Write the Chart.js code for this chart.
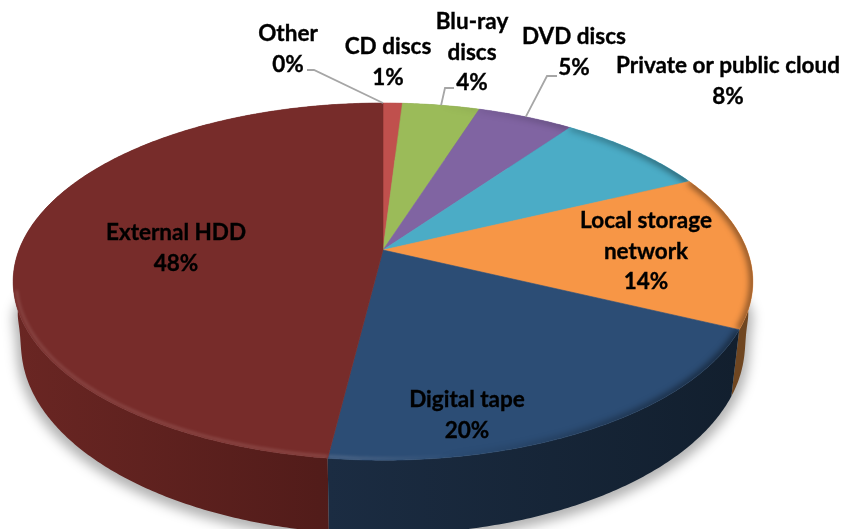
<!DOCTYPE html>
<html>
<head>
<meta charset="utf-8">
<style>
  html, body { margin: 0; padding: 0; background: #fff; }
  canvas { display: block; }
</style>
<script src="https://cdn.jsdelivr.net/npm/chart.js@4/dist/chart.umd.js"></script>
</head>
<body>
<canvas id="storage" width="844" height="529"></canvas>
<script>
// Share of archive storage by medium, clockwise from twelve o'clock.
const categories = [
  ['Other'], ['CD discs'], ['Blu-ray', 'discs'], ['DVD discs'],
  ['Private or public cloud'], ['Local storage', 'network'],
  ['Digital tape'], ['External HDD']
];
const shares = [0, 1, 4, 5, 8, 14, 20, 48];
const faceColors = ['#4f81bd', '#c0504d', '#9bbb59', '#8064a2', '#4bacc6', '#f79646', '#2c4d75', '#772c2a'];
const wallFrom = ['#3c6290', '#803634', '#6d8440', '#5a4673', '#347a8c', '#6f4621', '#1b2c42', '#6a2623'];
const wallTo = ['#3c6290', '#803634', '#6d8440', '#5a4673', '#347a8c', '#6f4621', '#121f2e', '#4d1a18'];

// Label placement: centre x and middle y of each text block's first line.
const labelAnchors = [[288, 34], [388, 47], [472, 22], [574, 37], [728, 66], [646, 221], [467, 400], [176, 233]];
// Elbow of each leader line, for the labels that sit away from their slice.
const leaderElbows = { 0: [[307, 70], [314, 70]], 2: [[454, 88], [445, 88]], 3: [[557, 76], [547, 76]] };

// Tilted-disc projection: the disc centre stays at the arc centre, the rim is foreshortened.
const TILT = 0.177;
const TOP_RIM = { rx: 364 / 250, ry: 173 / 250, dy: 0, flare: 0 };
const BASE_RIM = { rx: 356 / 250, ry: 183 / 250, dy: 62, flare: 0.03 };

function project(el, angle, rim, scale = 1) {
  const s = Math.sin(angle), c = Math.cos(angle);
  const f = el.outerRadius * scale / (1 - TILT * s);
  // The base edge swells a little where it meets the widest part of the top rim.
  const widen = 1 + rim.flare * Math.exp(-Math.pow((s + 0.05) / 0.13, 2));
  return [el.x + rim.rx * f * c * widen, el.y + rim.dy + rim.ry * f * s];
}

function rimPoints(el, rim, from, to, scale = 1) {
  const steps = Math.max(2, Math.ceil((to - from) / 0.01));
  const pts = [];
  for (let i = 0; i <= steps; i++) pts.push(project(el, from + (to - from) * i / steps, rim, scale));
  return pts;
}

function trace(ctx, pts) {
  pts.forEach((p, i) => (i ? ctx.lineTo(p[0], p[1]) : ctx.moveTo(p[0], p[1])));
}

const tiltedPie = {
  id: 'tiltedPie',
  beforeDatasetDraw(chart) {
    const ctx = chart.ctx;
    const arcs = chart.getDatasetMeta(0).data.map((a, i) => ({
      i, el: a.getProps(['x', 'y', 'startAngle', 'endAngle', 'outerRadius'], true)
    }));

    // Soft ground shadow under the base.
    const whole = arcs[0].el;
    ctx.save();
    ctx.filter = 'blur(6px)';
    ctx.fillStyle = 'rgba(0,0,0,0.3)';
    ctx.translate(0, 5);
    ctx.beginPath();
    trace(ctx, rimPoints(whole, BASE_RIM, 0, Math.PI * 2, 1.012));
    ctx.closePath();
    ctx.fill();
    ctx.restore();

    // Side walls, back slices first.
    const backToFront = arcs.slice().sort((p, q) =>
      Math.sin((p.el.startAngle + p.el.endAngle) / 2) - Math.sin((q.el.startAngle + q.el.endAngle) / 2));
    backToFront.forEach(({ i, el }) => {
      if (el.endAngle - el.startAngle < 1e-4) return;
      const upper = rimPoints(el, TOP_RIM, el.startAngle, el.endAngle);
      const lower = rimPoints(el, BASE_RIM, el.startAngle, el.endAngle).reverse();
      const xs = upper.concat(lower).map(p => p[0]);
      const g = ctx.createLinearGradient(Math.min(...xs), 0, Math.max(...xs), 0);
      g.addColorStop(0, wallFrom[i]);
      g.addColorStop(1, wallTo[i]);
      ctx.fillStyle = g;
      ctx.beginPath();
      trace(ctx, upper.concat(lower));
      ctx.closePath();
      ctx.fill();
    });

    // Top faces with a soft bevel along the rim.
    arcs.forEach(({ i, el }) => {
      if (el.endAngle - el.startAngle < 1e-4) return;
      const rim = rimPoints(el, TOP_RIM, el.startAngle, el.endAngle);
      ctx.save();
      ctx.beginPath();
      ctx.moveTo(el.x, el.y);
      rim.forEach(p => ctx.lineTo(p[0], p[1]));
      ctx.closePath();
      ctx.fillStyle = faceColors[i];
      ctx.strokeStyle = faceColors[i];
      ctx.lineWidth = 0.6;
      ctx.fill();
      ctx.stroke();
      ctx.clip();
      const inner = rimPoints(el, TOP_RIM, el.startAngle, el.endAngle, 0.992);
      const g = ctx.createLinearGradient(13, 0, 753, 0);
      g.addColorStop(0, 'rgba(255,235,230,0.13)');
      g.addColorStop(0.45, 'rgba(255,235,230,0.15)');
      g.addColorStop(0.6, 'rgba(255,235,230,0)');
      g.addColorStop(1, 'rgba(0,0,0,0)');
      ctx.filter = 'blur(1.5px)';
      ctx.strokeStyle = g;
      ctx.lineWidth = 3;
      ctx.beginPath();
      trace(ctx, inner.filter(p => p[1] > 290));
      ctx.stroke();
      ctx.filter = 'blur(3px)';
      const d = ctx.createLinearGradient(440, 0, 700, 0);
      d.addColorStop(0, 'rgba(0,0,0,0)');
      d.addColorStop(1, 'rgba(0,0,0,0.5)');
      ctx.strokeStyle = d;
      ctx.lineWidth = 6;
      ctx.beginPath();
      trace(ctx, rim);
      ctx.stroke();
      ctx.restore();
    });

    // Leader lines from rim to label.
    ctx.save();
    ctx.strokeStyle = '#a6a6a6';
    ctx.lineWidth = 1.8;
    Object.keys(leaderElbows).forEach(key => {
      const { el } = arcs[key];
      const end = project(el, (el.startAngle + el.endAngle) / 2, TOP_RIM);
      ctx.beginPath();
      trace(ctx, leaderElbows[key].concat([end]));
      ctx.stroke();
    });
    ctx.restore();

    // Category and percentage text.
    ctx.save();
    ctx.font = 'bold 22.5px Lato, "Open Sans", sans-serif';
    ctx.fillStyle = '#000';
    ctx.strokeStyle = '#000';
    ctx.lineWidth = 0.35;
    ctx.textAlign = 'center';
    ctx.textBaseline = 'middle';
    categories.forEach((lines, i) => {
      const [x, y] = labelAnchors[i];
      lines.concat([shares[i] + '%']).forEach((t, n) => {
        ctx.fillText(t, x, y + n * 30.5);
        ctx.strokeText(t, x, y + n * 30.5);
      });
    });
    ctx.restore();
    return false;
  }
};

new Chart(document.getElementById('storage'), {
  type: 'pie',
  data: {
    labels: categories.map(l => l.join(' ')),
    datasets: [{ data: shares, backgroundColor: faceColors, borderWidth: 0 }]
  },
  options: {
    responsive: false,
    animation: false,
    layout: { padding: { left: 0, top: 0, right: 78, bottom: 29 } },
    plugins: { legend: { display: false }, tooltip: { enabled: false } }
  },
  plugins: [tiltedPie]
});
</script>
</body>
</html>
